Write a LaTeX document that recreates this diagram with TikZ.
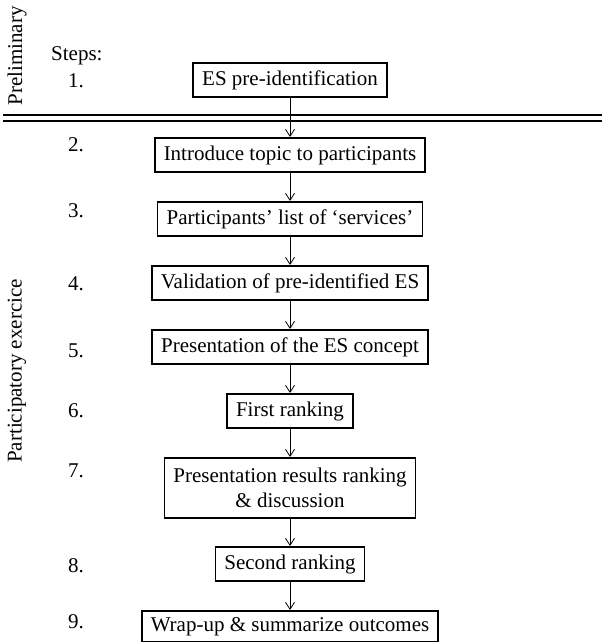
\documentclass[tikz,border=0pt]{standalone}
\usepackage{fontspec}
\setmainfont{Liberation Serif}
\usetikzlibrary{arrows.meta}

\begin{document}
\begin{tikzpicture}[x=1pt,y=-1pt,
  txt/.style={font=\fontsize{21}{25}\selectfont},
  stepbox/.style={txt, draw, line width=1.6pt, inner xsep=9pt, inner ysep=0pt,
    minimum height=34pt, text height=15pt, text depth=4pt, anchor=north},
  widebox/.style={txt, draw, line width=1.6pt, inner xsep=9pt, inner ysep=0pt,
    minimum height=60pt, align=center, anchor=north},
  flow/.style={line width=0.8pt, -{Straight Barb[length=7pt,width=9pt,line width=0.8pt]}},
  numlbl/.style={txt, anchor=base west, inner sep=0pt},
  phase/.style={txt, rotate=90, inner sep=0pt},
  divider/.style={line width=1.2pt}]

\useasboundingbox (0,0) rectangle (602,642);

% phase labels
\node[phase] (prelim) at (17,56) {Preliminary};
\node[phase] (partic) at (17,371) {Participatory exercice};

% separator between the two phases
\draw[divider] (3,115) -- (602,115);
\draw[divider] (3,121) -- (602,121);

% step numbers
\node[numlbl] (steps) at (51,60) {Steps:};
\node[numlbl] (n1) at (68,87) {1.};
\node[numlbl] (n2) at (68,151) {2.};
\node[numlbl] (n3) at (68,217) {3.};
\node[numlbl] (n4) at (68,290) {4.};
\node[numlbl] (n5) at (68,357) {5.};
\node[numlbl] (n6) at (68,417) {6.};
\node[numlbl] (n7) at (68,477) {7.};
\node[numlbl] (n8) at (68,572) {8.};
\node[numlbl] (n9) at (68,628) {9.};

% steps
\node[stepbox] (s1) at (290,62) {ES pre-identification};
\node[stepbox] (s2) at (290,137) {Introduce topic to participants};
\node[stepbox] (s3) at (290,201) {Participants' list of `services'};
\node[stepbox] (s4) at (290,265) {Validation of pre-identified ES};
\node[stepbox] (s5) at (290,329) {Presentation of the ES concept};
\node[stepbox] (s6) at (290,393) {First ranking};
\node[widebox] (s7) at (290,457) {Presentation results ranking\\ \& discussion};
\node[stepbox] (s8) at (290,546) {Second ranking};
\node[stepbox, minimum height=31pt] (s9) at (290,610) {Wrap-up \& summarize outcomes};

% connectors
\foreach \a/\b in {s1/s2, s2/s3, s3/s4, s4/s5, s5/s6, s6/s7, s7/s8, s8/s9}
  \draw[flow] (\a.south) -- (\b.north);

\end{tikzpicture}
\end{document}
